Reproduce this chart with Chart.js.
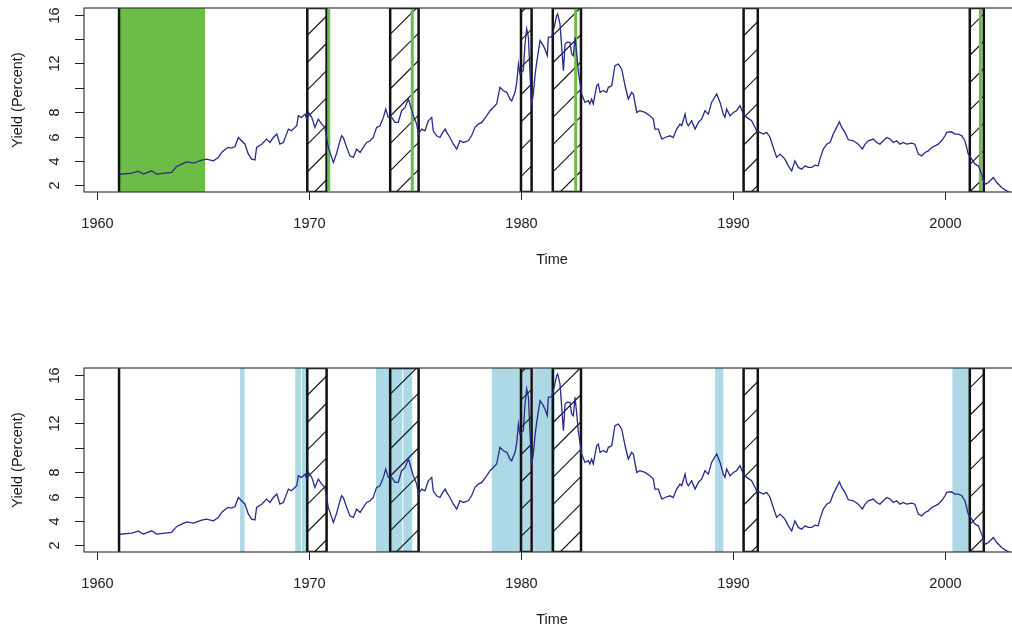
<!DOCTYPE html>
<html>
<head>
<meta charset="utf-8">
<script src="https://cdn.jsdelivr.net/npm/chart.js@4/dist/chart.umd.min.js"></script>
<style>
  html, body { margin: 0; padding: 0; background: #fff; overflow: hidden; width: 1012px; height: 628px; }
  .panel { position: absolute; left: 0; }
</style>
</head>
<body>
<div class="panel" style="top:0"><canvas id="upper" width="1050" height="360"></canvas></div>
<div class="panel" style="top:360px"><canvas id="lower" width="1050" height="360"></canvas></div>
<script>
// monthly-ish yield readings, decimal years
const years = [
  1961.05, 1961.64, 1961.95, 1962.19, 1962.58, 1962.81, 1963.21, 1963.52, 1963.76, 1964.00,
  1964.23, 1964.55, 1964.94, 1965.17, 1965.49, 1965.72, 1965.88, 1966.05, 1966.19, 1966.35,
  1966.51, 1966.67, 1966.98, 1967.14, 1967.30, 1967.45, 1967.53, 1967.77, 1968.00, 1968.16,
  1968.32, 1968.48, 1968.63, 1968.79, 1969.03, 1969.18, 1969.42, 1969.50, 1969.65, 1969.81,
  1969.89, 1969.97, 1970.13, 1970.28, 1970.44, 1970.60, 1970.75, 1970.91, 1971.15, 1971.30,
  1971.46, 1971.54, 1971.62, 1971.78, 1971.93, 1972.09, 1972.25, 1972.41, 1972.56, 1972.72,
  1972.88, 1973.03, 1973.19, 1973.35, 1973.51, 1973.62, 1973.74, 1973.90, 1974.06, 1974.21,
  1974.37, 1974.53, 1974.69, 1974.76, 1974.92, 1975.08, 1975.16, 1975.32, 1975.47, 1975.63,
  1975.79, 1975.86, 1976.02, 1976.18, 1976.26, 1976.42, 1976.50, 1976.65, 1976.81, 1976.97,
  1977.12, 1977.28, 1977.51, 1977.67, 1977.83, 1977.99, 1978.15, 1978.38, 1978.54, 1978.69,
  1978.85, 1979.01, 1979.17, 1979.33, 1979.48, 1979.56, 1979.72, 1979.80, 1979.88, 1979.95,
  1980.11, 1980.19, 1980.27, 1980.35, 1980.42, 1980.50, 1980.58, 1980.66, 1980.74, 1980.90,
  1981.05, 1981.13, 1981.24, 1981.29, 1981.45, 1981.60, 1981.68, 1981.73, 1981.84, 1981.92,
  1982.00, 1982.08, 1982.16, 1982.31, 1982.39, 1982.47, 1982.55, 1982.63, 1982.70, 1982.86,
  1983.02, 1983.18, 1983.25, 1983.33, 1983.41, 1983.57, 1983.65, 1983.73, 1983.88, 1984.04,
  1984.12, 1984.28, 1984.43, 1984.59, 1984.75, 1984.91, 1985.06, 1985.22, 1985.30, 1985.46,
  1985.61, 1985.85, 1986.08, 1986.24, 1986.32, 1986.48, 1986.64, 1986.79, 1987.03, 1987.18,
  1987.34, 1987.50, 1987.58, 1987.74, 1987.81, 1987.89, 1988.05, 1988.21, 1988.37, 1988.52,
  1988.68, 1988.84, 1988.99, 1989.23, 1989.39, 1989.54, 1989.62, 1989.70, 1989.86, 1990.02,
  1990.17, 1990.33, 1990.49, 1990.65, 1990.88, 1991.12, 1991.27, 1991.43, 1991.59, 1991.75,
  1991.90, 1992.06, 1992.22, 1992.45, 1992.61, 1992.77, 1992.92, 1993.08, 1993.24, 1993.40,
  1993.55, 1993.71, 1993.87, 1994.02, 1994.10, 1994.26, 1994.42, 1994.58, 1994.73, 1994.89,
  1995.02, 1995.13, 1995.28, 1995.44, 1995.68, 1995.91, 1996.10, 1996.23, 1996.38, 1996.62,
  1996.78, 1996.93, 1997.09, 1997.25, 1997.41, 1997.56, 1997.72, 1997.88, 1998.03, 1998.19,
  1998.43, 1998.58, 1998.74, 1998.90, 1999.06, 1999.21, 1999.37, 1999.53, 1999.68, 1999.84,
  2000.00, 2000.08, 2000.31, 2000.47, 2000.63, 2000.79, 2000.94, 2001.02, 2001.10, 2001.26,
  2001.42, 2001.57, 2001.73, 2001.89, 2002.05, 2002.28, 2002.44, 2002.67, 2002.91, 2003.07
];
const yields = [
  2.90, 2.99, 3.15, 2.91, 3.18, 2.91, 2.99, 3.05, 3.54, 3.73,
  3.92, 3.81, 4.06, 4.14, 4.00, 4.28, 4.69, 4.96, 5.10, 5.05,
  5.18, 5.92, 5.37, 4.55, 4.14, 4.08, 5.10, 5.37, 5.79, 5.51,
  5.92, 6.20, 5.37, 5.51, 6.61, 6.47, 6.88, 7.70, 7.57, 7.84,
  7.43, 7.98, 7.57, 6.75, 7.43, 7.02, 6.75, 5.10, 3.87, 4.60,
  5.65, 6.06, 5.92, 5.10, 4.41, 4.28, 4.96, 4.69, 5.10, 5.51,
  5.65, 5.92, 6.75, 6.88, 7.57, 8.26, 7.57, 7.57, 7.16, 7.16,
  8.12, 8.39, 9.08, 8.67, 7.70, 7.02, 6.20, 6.61, 6.47, 7.29,
  7.57, 6.47, 6.06, 5.92, 6.20, 6.61, 6.34, 5.92, 5.37, 4.96,
  5.65, 5.51, 5.65, 6.06, 6.75, 7.02, 7.16, 7.70, 8.12, 8.39,
  8.67, 10.04, 9.76, 9.63, 9.08, 8.94, 9.63, 10.45, 11.96, 11.14,
  11.41, 13.60, 14.84, 14.16, 11.41, 8.53, 9.49, 11.00, 12.10, 13.88,
  13.47, 13.19, 12.64, 14.16, 14.16, 15.25, 15.93, 16.07, 15.25, 13.33,
  11.41, 13.60, 13.74, 13.74, 12.78, 12.64, 14.16, 12.78, 11.41, 9.49,
  8.80, 8.94, 8.67, 9.08, 8.67, 10.17, 10.31, 9.63, 9.76, 9.63,
  10.04, 10.17, 11.82, 11.96, 11.55, 10.17, 9.08, 9.63, 9.49, 7.98,
  8.12, 7.98, 7.70, 7.43, 6.61, 6.61, 5.79, 5.92, 6.06, 5.92,
  6.61, 7.02, 6.88, 7.84, 7.16, 6.88, 7.29, 6.61, 7.16, 7.43,
  8.12, 7.84, 8.80, 9.49, 8.80, 7.84, 7.57, 8.26, 7.70, 7.98,
  8.12, 8.53, 7.84, 7.57, 7.29, 6.47, 6.34, 6.20, 6.34, 5.92,
  5.10, 4.28, 4.55, 4.14, 3.59, 3.18, 4.00, 3.46, 3.32, 3.59,
  3.46, 3.46, 3.65, 3.59, 4.14, 4.96, 5.37, 5.51, 6.20, 6.75,
  7.21, 6.75, 6.34, 5.73, 5.65, 5.37, 4.96, 5.37, 5.65, 5.79,
  5.51, 5.37, 5.65, 5.92, 5.79, 5.51, 5.65, 5.37, 5.51, 5.37,
  5.46, 5.37, 4.55, 4.41, 4.69, 4.82, 5.10, 5.23, 5.37, 5.65,
  6.06, 6.34, 6.39, 6.20, 6.20, 6.06, 5.65, 5.10, 4.55, 4.14,
  3.73, 3.59, 2.91, 2.08, 2.22, 2.63, 2.22, 1.81, 1.53, 1.40
];

// recession periods (hatched boxes)
const recStart = [1969.92, 1973.83, 1980.00, 1981.50, 1990.50, 2001.17];
const recEnd   = [1970.83, 1975.17, 1980.50, 1982.83, 1991.17, 2001.83];

// upper panel: green period + green turning-point marks
const greenStart = [1961.05];
const greenEnd   = [1965.10];
const greenMarks = [1970.93, 1974.87, 1982.58, 2001.67];

// lower panel: light blue signal periods
const blueStart = [1966.75, 1969.35, 1969.67, 1973.16, 1974.45, 1978.62, 1980.57, 1989.15, 2000.35];
const blueEnd   = [1966.96, 1969.62, 1969.92, 1974.40, 1974.87, 1980.42, 1981.60, 1989.54, 2001.15];

const firstObs = 1961.04;

const xTicks = [1960, 1970, 1980, 1990, 2000];
const yTicks = [2, 4, 6, 8, 10, 12, 14, 16];
const yTickLabels = ['2', '4', '6', '8', '', '12', '', '16'];

const FONT = '14.5px "Liberation Sans", Arial, sans-serif';
const GREEN = '#6cbd45';
const BLUE = '#add8e6';

function hatchRect(ctx, x0, x1, top, bottom) {
  ctx.save();
  ctx.beginPath();
  ctx.rect(x0, top, x1 - x0, bottom - top);
  ctx.clip();
  ctx.strokeStyle = '#111';
  ctx.lineWidth = 1.1;
  const step = 27.3;
  ctx.beginPath();
  let c = Math.floor((x0 + top) / step) * step + 15;
  for (; c < x1 + bottom + step; c += step) {
    // line x + y = c
    ctx.moveTo(c - bottom, bottom);
    ctx.lineTo(c - top, top);
  }
  ctx.stroke();
  ctx.restore();
  ctx.save();
  ctx.strokeStyle = '#111';
  ctx.lineWidth = 2.5;
  ctx.strokeRect(x0, top, x1 - x0, bottom - top);
  ctx.restore();
}

const shading = {
  id: 'shading',
  beforeDatasetsDraw(chart, args, opts) {
    const { ctx, chartArea: a, scales: { x } } = chart;
    ctx.save();
    ctx.beginPath();
    ctx.rect(a.left, a.top, a.right - a.left, a.bottom - a.top);
    ctx.clip();
    const fs = opts.kind === 'green' ? greenStart : blueStart;
    const fe = opts.kind === 'green' ? greenEnd : blueEnd;
    ctx.fillStyle = opts.kind === 'green' ? GREEN : BLUE;
    fs.forEach((s, i) => {
      const p0 = x.getPixelForValue(s), p1 = x.getPixelForValue(fe[i]);
      ctx.fillRect(p0, a.top, p1 - p0, a.bottom - a.top);
    });
    recStart.forEach((s, i) => {
      hatchRect(ctx, x.getPixelForValue(s), x.getPixelForValue(recEnd[i]), a.top, a.bottom);
    });
    if (opts.kind === 'green') {
      ctx.strokeStyle = GREEN;
      ctx.lineWidth = 3;
      greenMarks.forEach(m => {
        const p = x.getPixelForValue(m);
        ctx.beginPath();
        ctx.moveTo(p, a.top + 1);
        ctx.lineTo(p, a.bottom - 1);
        ctx.stroke();
      });
    }
    // start of sample
    const p = x.getPixelForValue(firstObs);
    ctx.strokeStyle = '#111';
    ctx.lineWidth = 2.5;
    ctx.beginPath();
    ctx.moveTo(p, a.top);
    ctx.lineTo(p, a.bottom);
    ctx.stroke();
    ctx.restore();
  }
};

const axesR = {
  id: 'axesR',
  afterDraw(chart) {
    const { ctx, chartArea: a, scales: { x, y } } = chart;
    ctx.save();
    ctx.strokeStyle = '#3a3a3a';
    ctx.lineWidth = 1.2;
    ctx.strokeRect(a.left, a.top, a.right - a.left, a.bottom - a.top);

    ctx.strokeStyle = '#222';
    ctx.lineWidth = 1;
    ctx.fillStyle = '#1a1a1a';
    ctx.font = FONT;
    ctx.textAlign = 'center';
    ctx.textBaseline = 'middle';
    xTicks.forEach(t => {
      const p = Math.round(x.getPixelForValue(t)) + 0.5;
      ctx.beginPath();
      ctx.moveTo(p, a.bottom);
      ctx.lineTo(p, a.bottom + 8);
      ctx.stroke();
      ctx.fillText(String(t), p, a.bottom + 32);
    });
    ctx.fillText('Time', (a.left + a.right) / 2, a.bottom + 68);

    yTicks.forEach((t, i) => {
      const p = Math.round(y.getPixelForValue(t)) + 0.5;
      ctx.beginPath();
      ctx.moveTo(a.left, p);
      ctx.lineTo(a.left - 9, p);
      ctx.stroke();
      if (yTickLabels[i]) {
        ctx.save();
        ctx.translate(a.left - 29, p);
        ctx.rotate(-Math.PI / 2);
        ctx.fillText(yTickLabels[i], 0, 0);
        ctx.restore();
      }
    });
    ctx.save();
    ctx.translate(18, (a.top + a.bottom) / 2);
    ctx.rotate(-Math.PI / 2);
    ctx.fillText('Yield (Percent)', 0, 0);
    ctx.restore();
    ctx.restore();
  }
};

function makePanel(id, kind) {
  return new Chart(document.getElementById(id), {
    type: 'line',
    data: {
      datasets: [{
        data: years.map((t, i) => ({ x: t, y: yields[i] })),
        borderColor: '#262a8a',
        borderWidth: 1.3,
        pointRadius: 0,
        tension: 0,
        fill: false
      }]
    },
    options: {
      responsive: false,
      animation: false,
      events: [],
      layout: { padding: { left: 84, top: 8, right: 30, bottom: 168 } },
      scales: {
        x: { type: 'linear', min: 1959.387, max: 2003.538, display: false },
        y: { type: 'linear', min: 1.44, max: 16.56, display: false }
      },
      plugins: {
        legend: { display: false },
        tooltip: { enabled: false },
        shading: { kind: kind }
      }
    },
    plugins: [shading, axesR]
  });
}

makePanel('upper', 'green');
makePanel('lower', 'blue');
</script>
</body>
</html>
